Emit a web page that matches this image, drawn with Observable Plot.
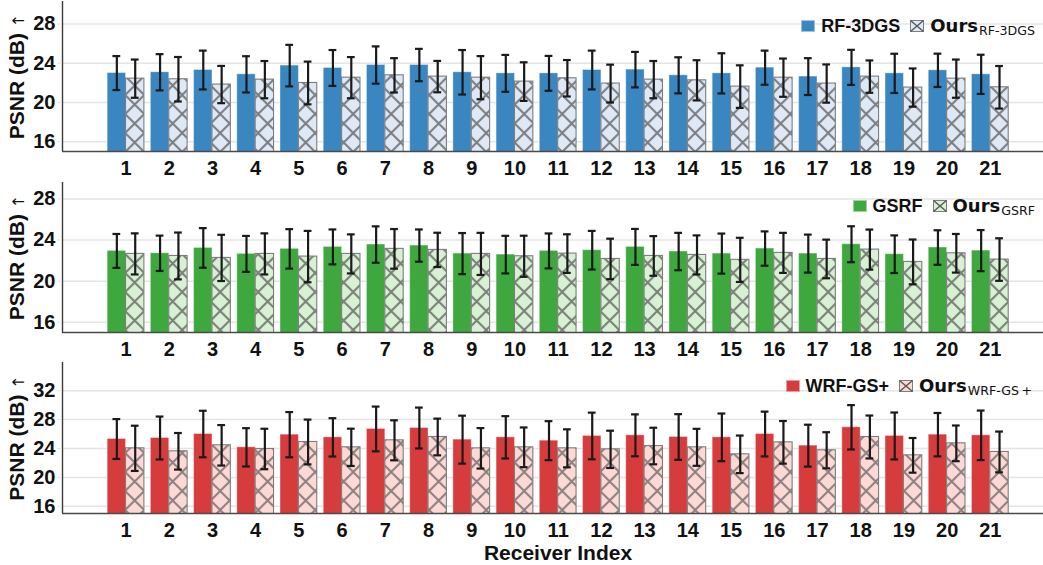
<!DOCTYPE html>
<html>
<head>
<meta charset="utf-8">
<script src="https://cdn.jsdelivr.net/npm/d3@7"></script>
<script src="https://cdn.jsdelivr.net/npm/@observablehq/plot@0.6"></script>
<style>
  body { margin: 0; background: #fff; }
  #chart { position: relative; width: 1043px; height: 565px; overflow: hidden; font-family: "Liberation Sans", Arial, sans-serif; }
  .panel { position: absolute; left: 0; }
  .legend { position: absolute; font: bold 18px "Liberation Sans", Arial, sans-serif; line-height: 18px; white-space: nowrap; color: #111; }
  .legend .sw { display: inline-block; width: 14px; height: 12px; margin-right: 6px; vertical-align: baseline; box-sizing: border-box; border: 1px solid rgba(255,255,255,0.5); }
  .legend svg { vertical-align: baseline; margin-left: 10px; margin-right: 6px; }
  .legend .ours { font-family: "DejaVu Sans", sans-serif; font-weight: bold; }
  .legend .sub { font-family: "DejaVu Sans", sans-serif; font-weight: normal; font-size: 12.6px; position: relative; top: 3px; margin-left: 1px; }
</style>
</head>
<body>
<svg width="0" height="0" style="position:absolute">
  <defs>
    <pattern id="hatch-blue" patternUnits="userSpaceOnUse" x="11.2" y="0" width="19" height="19">
      <rect width="19" height="19" fill="#dfe8f5"/>
      <path d="M0,0L19,19M19,0L0,19M-1,1L1,-1M18,20L20,18M18,-1L20,1M-1,18L1,20" stroke="#505050" stroke-opacity="0.7" stroke-width="2"/>
    </pattern>
    <pattern id="hatch-green" patternUnits="userSpaceOnUse" x="11.2" y="0" width="19" height="19">
      <rect width="19" height="19" fill="#d8f0d3"/>
      <path d="M0,0L19,19M19,0L0,19M-1,1L1,-1M18,20L20,18M18,-1L20,1M-1,18L1,20" stroke="#505050" stroke-opacity="0.7" stroke-width="2"/>
    </pattern>
    <pattern id="hatch-red" patternUnits="userSpaceOnUse" x="11.2" y="0" width="19" height="19">
      <rect width="19" height="19" fill="#fdd9d6"/>
      <path d="M0,0L19,19M19,0L0,19M-1,1L1,-1M18,20L20,18M18,-1L20,1M-1,18L1,20" stroke="#505050" stroke-opacity="0.65" stroke-width="2"/>
    </pattern>
  </defs>
</svg>
<div id="chart"></div>
<script>
// Receiver indices on the x axis
const receivers = [1, 2, 3, 4, 5, 6, 7, 8, 9, 10, 11, 12, 13, 14, 15, 16, 17, 18, 19, 20, 21];

// PSNR ticks
const psnrTicks = [16, 20, 24, 28];
const psnrTicksWide = [16, 20, 24, 28, 32];

// RF-3DGS vs. Ours (mean, std)
const rf3dgsMean = [23.0, 23.08, 23.31, 22.87, 23.76, 23.52, 23.82, 23.82, 23.08, 22.97, 22.97, 23.31, 23.35, 22.77, 22.97, 23.55, 22.64, 23.58, 22.97, 23.28, 22.87];
const rf3dgsStd = [1.73, 1.85, 1.98, 1.85, 2.12, 1.83, 1.9, 1.65, 2.27, 1.88, 1.78, 1.98, 1.81, 1.84, 2.05, 1.74, 1.88, 1.79, 2.0, 1.7, 2.0];
const oursRf3dgsMean = [22.43, 22.37, 21.83, 22.33, 21.99, 22.53, 22.77, 22.64, 22.53, 22.13, 22.47, 21.93, 22.33, 22.26, 21.62, 22.53, 21.93, 22.64, 21.52, 22.43, 21.55];
const oursRf3dgsStd = [1.95, 2.27, 1.9, 1.9, 2.18, 2.1, 1.75, 1.6, 2.2, 1.97, 1.86, 1.93, 1.9, 2.05, 2.17, 1.95, 1.95, 1.65, 1.95, 1.95, 2.17];

// GSRF vs. Ours
const gsrfMean = [22.94, 22.71, 23.23, 22.65, 23.14, 23.33, 23.56, 23.46, 22.68, 22.58, 22.94, 23.01, 23.33, 22.88, 22.68, 23.17, 22.68, 23.59, 22.62, 23.27, 22.97];
const gsrfStd = [1.65, 1.72, 1.93, 1.75, 1.92, 1.7, 1.77, 1.57, 2.0, 1.83, 1.7, 1.88, 1.75, 1.82, 1.95, 1.67, 1.85, 1.75, 1.83, 1.68, 2.0];
const oursGsrfMean = [22.65, 22.45, 22.26, 22.65, 22.39, 22.65, 23.14, 23.04, 22.65, 22.42, 22.68, 22.16, 22.45, 22.55, 22.07, 22.75, 22.16, 23.07, 21.87, 22.71, 22.1];
const oursGsrfStd = [2.0, 2.28, 2.25, 2.0, 2.5, 1.9, 1.93, 1.67, 2.05, 2.0, 1.88, 1.97, 1.93, 1.9, 2.15, 1.95, 1.88, 1.95, 2.18, 1.88, 2.07];

// WRF-GS+ vs. Ours
const wrfgsMean = [25.31, 25.45, 26.0, 24.16, 25.91, 25.54, 26.7, 26.83, 25.22, 25.54, 25.08, 25.73, 25.82, 25.59, 25.54, 26.0, 24.39, 26.93, 25.73, 25.91, 25.82];
const wrfgsStd = [2.76, 2.97, 3.22, 2.65, 3.13, 2.65, 3.1, 2.83, 3.32, 2.93, 2.7, 3.23, 2.9, 3.16, 3.3, 3.1, 2.9, 3.07, 3.25, 3.0, 3.43];
const oursWrfgsMean = [24.02, 23.61, 24.44, 23.93, 24.9, 24.16, 25.13, 25.59, 24.02, 24.16, 24.02, 23.88, 24.34, 24.16, 23.19, 24.85, 23.75, 25.59, 23.05, 24.71, 23.52];
const oursWrfgsStd = [3.13, 2.53, 2.8, 2.8, 3.1, 2.58, 2.77, 2.54, 2.8, 2.75, 2.63, 2.58, 2.53, 2.56, 2.6, 2.95, 2.5, 2.97, 2.4, 2.47, 2.82];

const xDomain = [-0.47, 22.23];
const barW = 0.425;
const capHalf = 0.09;
const font = "'Liberation Sans', Arial, sans-serif";

const panels = [
  { name: "RF-3DGS", sub: "RF-3DGS", base: rf3dgsMean, baseStd: rf3dgsStd, ours: oursRf3dgsMean, oursStd: oursRf3dgsStd,
    color: "#3a86c1", light: "#dfe8f5", hatch: "hatch-blue", yDomain: [15, 30.3], yTicks: psnrTicks,
    top: 0, height: 178, marginTop: 1, marginBottom: 27, legendTop: 17, legendRight: 8 },
  { name: "GSRF", sub: "GSRF", base: gsrfMean, baseStd: gsrfStd, ours: oursGsrfMean, oursStd: oursGsrfStd,
    color: "#3ea83f", light: "#d8f0d3", hatch: "hatch-green", yDomain: [15, 29.6], yTicks: psnrTicks,
    top: 178, height: 180, marginTop: 4, marginBottom: 26, legendTop: 196.5, legendRight: 8 },
  { name: "WRF-GS+", sub: "WRF-GS\u2009+", base: wrfgsMean, baseStd: wrfgsStd, ours: oursWrfgsMean, oursStd: oursWrfgsStd,
    color: "#d73c3d", light: "#fdd9d6", hatch: "hatch-red", yDomain: [15, 35.9], yTicks: psnrTicksWide,
    top: 358, height: 207, marginTop: 4, marginBottom: 52, legendTop: 377, legendRight: 11, xLabel: "Receiver Index" }
];

const chart = document.getElementById("chart");

for (const p of panels) {
  const baseRows = receivers.map((r, i) => ({ r, mean: p.base[i], std: p.baseStd[i], c: r - barW / 2 }));
  const oursRows = receivers.map((r, i) => ({ r, mean: p.ours[i], std: p.oursStd[i], c: r + barW / 2 }));
  const allRows = baseRows.concat(oursRows);

  const marks = [
    Plot.gridY(p.yTicks, { stroke: "#e4e4e4", strokeOpacity: 1, strokeWidth: 1.5 }),
    // baseline method bars
    Plot.rect(baseRows, {
      x1: d => d.r - barW, x2: d => d.r, y1: 0, y2: "mean",
      fill: p.color, stroke: "#ffffff", strokeOpacity: 0.35, strokeWidth: 1, clip: true
    }),
    // our method bars, hatched
    Plot.rect(oursRows, {
      x1: d => d.r, x2: d => d.r + barW, y1: 0, y2: "mean",
      fill: `url(#${p.hatch})`, stroke: "#7d7d7d", strokeWidth: 1.1, clip: true
    }),
    // error bars (±1 std) with caps
    Plot.ruleX(allRows, { x: "c", y1: d => d.mean - d.std, y2: d => d.mean + d.std, stroke: "#1a1a1a", strokeWidth: 2.2 }),
    Plot.ruleY(allRows, { x1: d => d.c - capHalf, x2: d => d.c + capHalf, y: d => d.mean + d.std, stroke: "#1a1a1a", strokeWidth: 2.2 }),
    Plot.ruleY(allRows, { x1: d => d.c - capHalf, x2: d => d.c + capHalf, y: d => d.mean - d.std, stroke: "#1a1a1a", strokeWidth: 2.2 }),
    // spines
    Plot.ruleX([xDomain[0]], { stroke: "#3a3a3a", strokeWidth: 1.4 }),
    Plot.ruleY([p.yDomain[0]], { stroke: "#4a4a4a", strokeWidth: 1.6 }),
    Plot.axisY(p.yTicks, { tickSize: 5, tickPadding: 2, stroke: "#e4e4e4", fill: "#111", fontSize: 20, fontWeight: "bold", label: null }),
    Plot.axisX(receivers, { tickSize: 0, tickPadding: 9, fill: "#111", fontSize: 20, fontWeight: "bold", label: null }),
    Plot.text(["PSNR (dB)"], {
      frameAnchor: "left", rotate: -90, dx: -45, fontSize: 21, fontWeight: "bold",
      textAnchor: "middle", lineAnchor: "middle", fill: "#111"
    })
  ];
  if (p.xLabel) {
    marks.push(Plot.text([p.xLabel], {
      frameAnchor: "bottom", dy: 40, dx: 5, fontSize: 21, fontWeight: "bold", lineAnchor: "middle", fill: "#111"
    }));
  }

  const svg = Plot.plot({
    width: 1043,
    height: p.height,
    marginLeft: 62,
    marginRight: 0,
    marginTop: p.marginTop,
    marginBottom: p.marginBottom,
    style: { fontFamily: font, background: "transparent", color: "#111", overflow: "visible" },
    x: { type: "linear", domain: xDomain },
    y: { type: "linear", domain: p.yDomain },
    marks
  });

  // y label: arrow glyph in a lighter face
  svg.querySelectorAll("text").forEach(t => {
    if (t.textContent === "PSNR (dB)") {
      t.textContent = "PSNR (dB) ";
      const ts = document.createElementNS("http://www.w3.org/2000/svg", "tspan");
      ts.setAttribute("font-family", "'DejaVu Sans', sans-serif");
      ts.setAttribute("font-weight", "normal");
      ts.setAttribute("font-size", "16");
      ts.textContent = "\u2191";
      t.appendChild(ts);
    }
  });

  const wrap = document.createElement("div");
  wrap.className = "panel";
  wrap.style.top = p.top + "px";
  wrap.appendChild(svg);
  chart.appendChild(wrap);

  // legend
  const lg = document.createElement("div");
  lg.className = "legend";
  lg.style.top = p.legendTop + "px";
  lg.style.right = p.legendRight + "px";
  lg.innerHTML =
    `<span class="sw" style="background:${p.color}"></span><span>${p.name}</span>` +
    `<svg width="14" height="12"><rect x="0.5" y="0.5" width="13" height="11" fill="${p.light}" stroke="#7d7d7d"/>` +
    `<path d="M0.5,0.5L13.5,11.5M13.5,0.5L0.5,11.5" stroke="#5a5a5a" stroke-width="1.4"/></svg>` +
    `<span class="ours">Ours</span><span class="sub">${p.sub}</span>`;
  chart.appendChild(lg);
}
</script>
</body>
</html>
